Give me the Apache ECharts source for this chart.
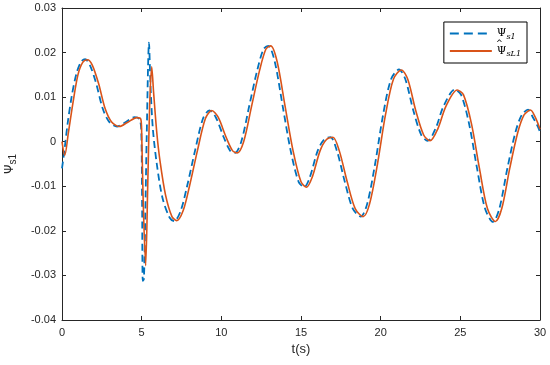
<!DOCTYPE html>
<html><head><meta charset="utf-8">
<script src="https://cdn.jsdelivr.net/npm/echarts@6/dist/echarts.min.js"></script>
<style>html,body{margin:0;padding:0;background:#fff}#c{width:550px;height:365px}</style>
</head><body><div id="c"></div>
<script>
// Ψs1 (blue dashed) : [t, value]
const psiS1 = [[0,-0.0060],[0.15,-0.0020],[0.35,0.004],[0.6,0.0100],[0.9,0.0152],[1.2,0.0180],[1.45,0.0185],[1.75,0.0172],[2.15,0.0130],[2.55,0.0075],[2.95,0.0045],[3.45,0.0034],[3.95,0.0043],[4.55,0.0055],[4.85,0.0051],[4.97,0.003],[5.03,-0.015],[5.07,-0.0312],[5.14,-0.0308],[5.22,-0.018],[5.32,0.002],[5.46,0.0222],[5.55,0.013],[5.7,0.003],[5.95,-0.005],[6.3,-0.0125],[6.75,-0.0170],[7.05,-0.0178],[7.45,-0.0155],[7.85,-0.0100],[8.35,-0.0020],[8.85,0.0052],[9.25,0.0070],[9.65,0.0055],[10.15,0.0010],[10.55,-0.0020],[10.85,-0.0025],[11.25,0.0000],[11.75,0.0080],[12.25,0.0160],[12.65,0.0208],[12.95,0.0215],[13.35,0.0180],[13.85,0.0080],[14.35,-0.0020],[14.85,-0.0090],[15.2,-0.0102],[15.55,-0.0080],[16.05,-0.0020],[16.45,0.0005],[16.85,0.0010],[17.25,-0.0020],[17.75,-0.0090],[18.25,-0.0150],[18.75,-0.0168],[19.15,-0.0140],[19.65,-0.0050],[20.15,0.0060],[20.65,0.0140],[21.15,0.0162],[21.55,0.0140],[22.05,0.0070],[22.55,0.0015],[22.95,0.0002],[23.45,0.0030],[23.95,0.0080],[24.65,0.0117],[25.05,0.0105],[25.55,0.0040],[26.05,-0.0060],[26.55,-0.0150],[27.05,-0.0180],[27.45,-0.0150],[27.95,-0.0060],[28.45,0.0020],[28.85,0.0060],[29.25,0.0072],[29.55,0.0055],[29.85,0.0035],[30.0,0.0022]];
// Ψ̂sL1 (red solid) : [t, value]
const psiSL1 = [[0,0.000],[0.17,-0.0031],[0.4,0.002],[0.7,0.009],[1.0,0.0150],[1.3,0.0178],[1.6,0.0184],[1.9,0.0172],[2.3,0.0130],[2.7,0.0075],[3.1,0.0045],[3.6,0.0034],[4.1,0.0043],[4.7,0.0054],[4.95,0.0050],[5.0,0.002],[5.1,-0.014],[5.25,-0.0278],[5.38,-0.010],[5.5,0.008],[5.63,0.0168],[5.75,0.011],[5.95,0.002],[6.15,-0.0043],[6.5,-0.0120],[6.9,-0.0168],[7.2,-0.0177],[7.6,-0.0155],[8.0,-0.0100],[8.5,-0.0020],[9.0,0.0052],[9.4,0.0070],[9.8,0.0055],[10.3,0.0010],[10.7,-0.0020],[11.0,-0.0025],[11.4,0.0000],[11.9,0.0080],[12.4,0.0160],[12.8,0.0208],[13.1,0.0215],[13.5,0.0180],[14.0,0.0080],[14.5,-0.0020],[15.0,-0.0090],[15.35,-0.0102],[15.7,-0.0080],[16.2,-0.0020],[16.6,0.0005],[17.0,0.0010],[17.4,-0.0020],[17.9,-0.0090],[18.4,-0.0150],[18.9,-0.0168],[19.3,-0.0140],[19.8,-0.0050],[20.3,0.0060],[20.8,0.0140],[21.3,0.0161],[21.7,0.0140],[22.2,0.0070],[22.7,0.0015],[23.1,0.0002],[23.6,0.0030],[24.1,0.0080],[24.8,0.0116],[25.2,0.0105],[25.7,0.0040],[26.2,-0.0060],[26.7,-0.0150],[27.2,-0.0179],[27.6,-0.0150],[28.1,-0.0060],[28.6,0.0020],[29.0,0.0060],[29.4,0.0071],[29.7,0.0055],[30.0,0.0028]];
const xTicks = [0, 30, 5];        // min, max, interval
const yTicks = [-0.04, 0.03, 0.01];
const seriesNames = ['Ψs1', 'Ψ̂sL1'];

const axisCol = '#262626';
const chart = echarts.init(document.getElementById('c'));
const fmtY = v => String(Math.round(v * 100) / 100);
chart.setOption({
  animation: false,
  textStyle: { fontFamily: 'Liberation Sans, Arial, sans-serif' },
  grid: { left: 62, right: 10, top: 8, bottom: 45, outerBoundsMode: 'none', containLabel: false },
  legend: {
    right: 23, top: 22, orient: 'vertical',
    itemWidth: 42, itemHeight: 2, itemGap: 5,
    padding: [6, 6, 5, 6],
    borderColor: '#000', borderWidth: 1, backgroundColor: '#fff',
    data: [
      { name: seriesNames[0], icon: 'path://M0,0h9v2h-9z M14,0h9v2h-9z M28,0h9v2h-9z M42,0h0.01v2h-0.01z' },
      { name: seriesNames[1], icon: 'path://M0,0h42v2h-42z' }
    ],
    formatter: n => n === seriesNames[0] ? '{p|Ψ}{s|s1}' : '{p|Ψ}{s|sL1}',
    textStyle: {
      rich: {
        p: { fontFamily: 'DejaVu Serif, serif', fontSize: 11, color: '#000', height: 14 },
        s: { fontFamily: 'DejaVu Serif, serif', fontStyle: 'italic', fontSize: 8, color: '#000', verticalAlign: 'bottom', padding: [4, 0, 0, 0] }
      }
    }
  },
  graphic: [{
    type: 'text', left: 496, top: 40, silent: true, z: 1000, zlevel: 1,
    style: { text: '^', font: '8px DejaVu Sans, sans-serif', fill: '#000' }
  }],
  xAxis: [{
    type: 'value', min: xTicks[0], max: xTicks[1], interval: xTicks[2],
    name: 't(s)', nameLocation: 'middle', nameGap: 23,
    nameTextStyle: { fontSize: 13, color: axisCol },
    axisLine: { onZero: false, lineStyle: { color: axisCol, width: 1 } },
    axisTick: { inside: true, length: 4, lineStyle: { color: axisCol } },
    axisLabel: { fontSize: 11, color: axisCol, margin: 7 },
    splitLine: { show: false }
  }, {
    type: 'value', position: 'top', min: xTicks[0], max: xTicks[1], interval: xTicks[2],
    axisLine: { show: true, onZero: false, lineStyle: { color: axisCol, width: 1 } },
    axisTick: { show: true, inside: true, length: 4, lineStyle: { color: axisCol } },
    axisLabel: { show: false }, splitLine: { show: false }
  }],
  yAxis: [{
    type: 'value', min: yTicks[0], max: yTicks[1], interval: yTicks[2],
    name: '{p|Ψ}{s|s1}', nameLocation: 'middle', nameGap: 44, nameRotate: 90,
    nameTextStyle: {
      rich: {
        p: { fontFamily: 'DejaVu Sans, sans-serif', fontSize: 12, color: axisCol },
        s: { fontSize: 10, color: axisCol, verticalAlign: 'bottom', padding: [6, 0, 0, 0] }
      }
    },
    axisLine: { show: true, onZero: false, lineStyle: { color: axisCol, width: 1 } },
    axisTick: { show: true, inside: true, length: 4, lineStyle: { color: axisCol } },
    axisLabel: { fontSize: 11, color: axisCol, margin: 6, formatter: fmtY },
    splitLine: { show: false }
  }, {
    type: 'value', position: 'right', min: yTicks[0], max: yTicks[1], interval: yTicks[2],
    axisLine: { show: true, onZero: false, lineStyle: { color: axisCol, width: 1 } },
    axisTick: { show: true, inside: true, length: 4, lineStyle: { color: axisCol } },
    axisLabel: { show: false }, splitLine: { show: false }
  }],
  series: [{
    name: seriesNames[0], type: 'line', data: psiS1, symbol: 'none',
    smooth: 0.3,
    lineStyle: { color: '#0072BD', width: 1.8, type: [7, 4] },
    itemStyle: { color: '#0072BD' }, z: 2
  }, {
    name: seriesNames[1], type: 'line', data: psiSL1, symbol: 'none',
    smooth: 0.3,
    lineStyle: { color: '#D95319', width: 1.6 },
    itemStyle: { color: '#D95319' }, z: 3
  }]
});
</script></body></html>
